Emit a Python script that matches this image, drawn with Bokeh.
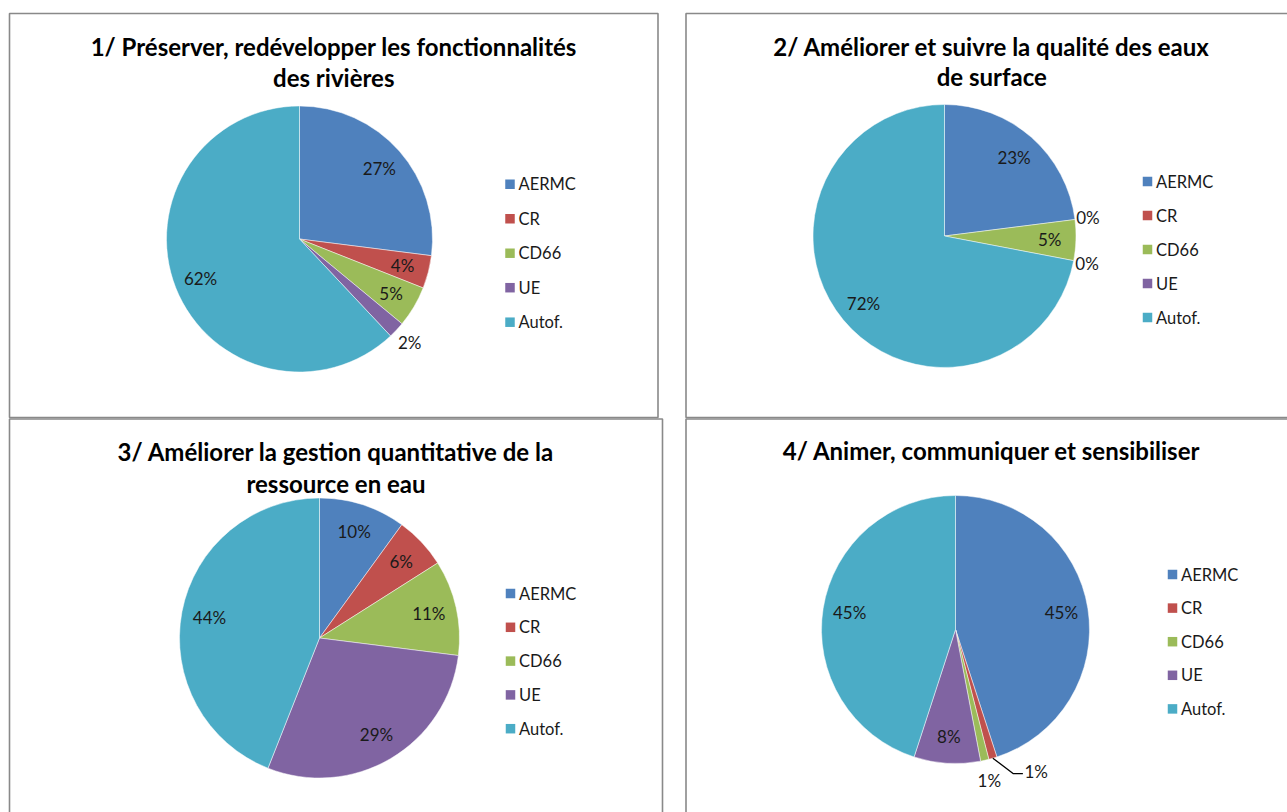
import math
from bokeh.plotting import figure
from bokeh.models import Range1d, ColumnDataSource
from bokeh.embed import file_html
from bokeh.resources import INLINE
from bokeh.core.properties import value

# ---------------- data ----------------
categories = ["AERMC", "CR", "CD66", "UE", "Autof."]
colors = ["#4F81BD", "#C0504D", "#9BBB59", "#8064A2", "#4BACC6"]

title_1 = ["1/ Préserver, redévelopper les fonctionnalités", "des rivières"]
title_2 = ["2/ Améliorer et suivre la qualité des eaux", "de surface"]
title_3 = ["3/ Améliorer la gestion quantitative de la", "ressource en eau"]
title_4 = ["4/ Animer, communiquer et sensibiliser"]

values_1 = [27, 4, 5, 2, 62]
values_2 = [23, 0, 5, 0, 72]
values_3 = [10, 6, 11, 29, 44]
values_4 = [45, 1, 1, 8, 45]

# ---------------- layout (page pixel coordinates) ----------------
W, H = 1287, 812
OFF = 0


def X(px):
    return px - OFF


def Y(py):
    return H + OFF - py


panels = [
    dict(title=title_1, values=values_1, box=(9, 13, 657.5, 417), title_y=[46, 77],
         center=(299, 238.5), r=133, legend=(509.5, 183.7, 34.5), leader=None),
    dict(title=title_2, values=values_2, box=(685.5, 13, 1297, 417), title_y=[46, 76],
         center=(944, 235.5), r=131.5, legend=(1147, 181, 34.0), leader=None),
    dict(title=title_3, values=values_3, box=(9, 418.5, 662, 840), title_y=[451, 483],
         center=(319, 637.5), r=140, legend=(510, 593, 33.8), leader=None),
    dict(title=title_4, values=values_4, box=(685.5, 418.5, 1297, 840), title_y=[450],
         center=(955, 629), r=134, legend=(1172, 574, 33.6), leader=1),
]

FONT = value("Lato")

p = figure(width=W, height=H, x_range=Range1d(0, W), y_range=Range1d(0, H),
           x_axis_type=None, y_axis_type=None, output_backend="svg",
           toolbar_location=None, min_border=0)
p.grid.visible = False
p.outline_line_color = None
p.background_fill_color = "white"
p.border_fill_color = "white"

for pan in panels:
    l, t, r_, b = pan["box"]
    # panel frame
    p.quad(left=X(l), right=X(r_), top=Y(t), bottom=Y(b), fill_color=None,
           line_color="#898989", line_width=1.6)
    # title
    cxt = (l + r_) / 2
    for line, ty in zip(pan["title"], pan["title_y"]):
        p.text(x=[X(cxt)], y=[Y(ty)], text=[line], text_font=FONT,
               text_font_size="24px", text_font_style="bold",
               text_align="center", text_baseline="middle", text_color="#000000")

    vals = pan["values"]
    total = float(sum(vals))
    cx, cy = pan["center"]
    R = pan["r"]
    starts, ends, cols, mids = [], [], [], []
    cum = 0.0
    for v, c in zip(vals, colors):
        th0 = 2 * math.pi * cum / total
        cum += v
        th1 = 2 * math.pi * cum / total
        mids.append((th0 + th1) / 2)
        if v > 0:
            starts.append(math.pi / 2 - th1)
            ends.append(math.pi / 2 - th0)
            cols.append(c)
    src = ColumnDataSource(dict(x=[X(cx)] * len(starts), y=[Y(cy)] * len(starts),
                                s=starts, e=ends, c=cols))
    p.wedge(x="x", y="y", radius=R, start_angle="s", end_angle="e",
            direction="anticlock", fill_color="c", line_color="white",
            line_alpha=0.6, line_width=0.8, source=src)

    # data labels
    for i, (v, th) in enumerate(zip(vals, mids)):
        lab = "%d%%" % v
        if pan["leader"] == i:
            sx = cx + R * math.sin(th)
            sy = cy - R * math.cos(th)
            ex, ey = sx + 20.5, sy + 15.5
            fx = ex + 9.5
            p.line(x=[X(sx), X(ex), X(fx)], y=[Y(sy), Y(ey), Y(ey)],
                   line_color="#000000", line_width=1.3)
            p.text(x=[X(fx + 1.5)], y=[Y(ey - 2)], text=[lab], text_font=FONT,
                   text_font_size="17px", text_align="left",
                   text_baseline="middle", text_color="#1a1a1a")
            continue
        if v < 3:
            rr = R + 12 + 9 * abs(math.cos(th))
        else:
            rr = 0.8 * R
        lx = cx + rr * math.sin(th)
        ly = cy - rr * math.cos(th)
        p.text(x=[X(lx)], y=[Y(ly)], text=[lab], text_font=FONT,
               text_font_size="17px", text_align="center",
               text_baseline="middle", text_color="#1a1a1a")

    # legend
    lgx, lgy, step = pan["legend"]
    ys = [lgy + k * step for k in range(len(categories))]
    p.rect(x=[X(lgx)] * len(categories), y=[Y(yy) for yy in ys], width=9.5, height=9.5,
           fill_color=colors, line_color=None)
    p.text(x=[X(lgx + 8.5)] * len(categories), y=[Y(yy) for yy in ys], text=categories,
           text_font=FONT, text_font_size="16.5px", text_align="left",
           text_baseline="middle", text_color="#1a1a1a")

open("out.html", "w").write(file_html(p, INLINE))
